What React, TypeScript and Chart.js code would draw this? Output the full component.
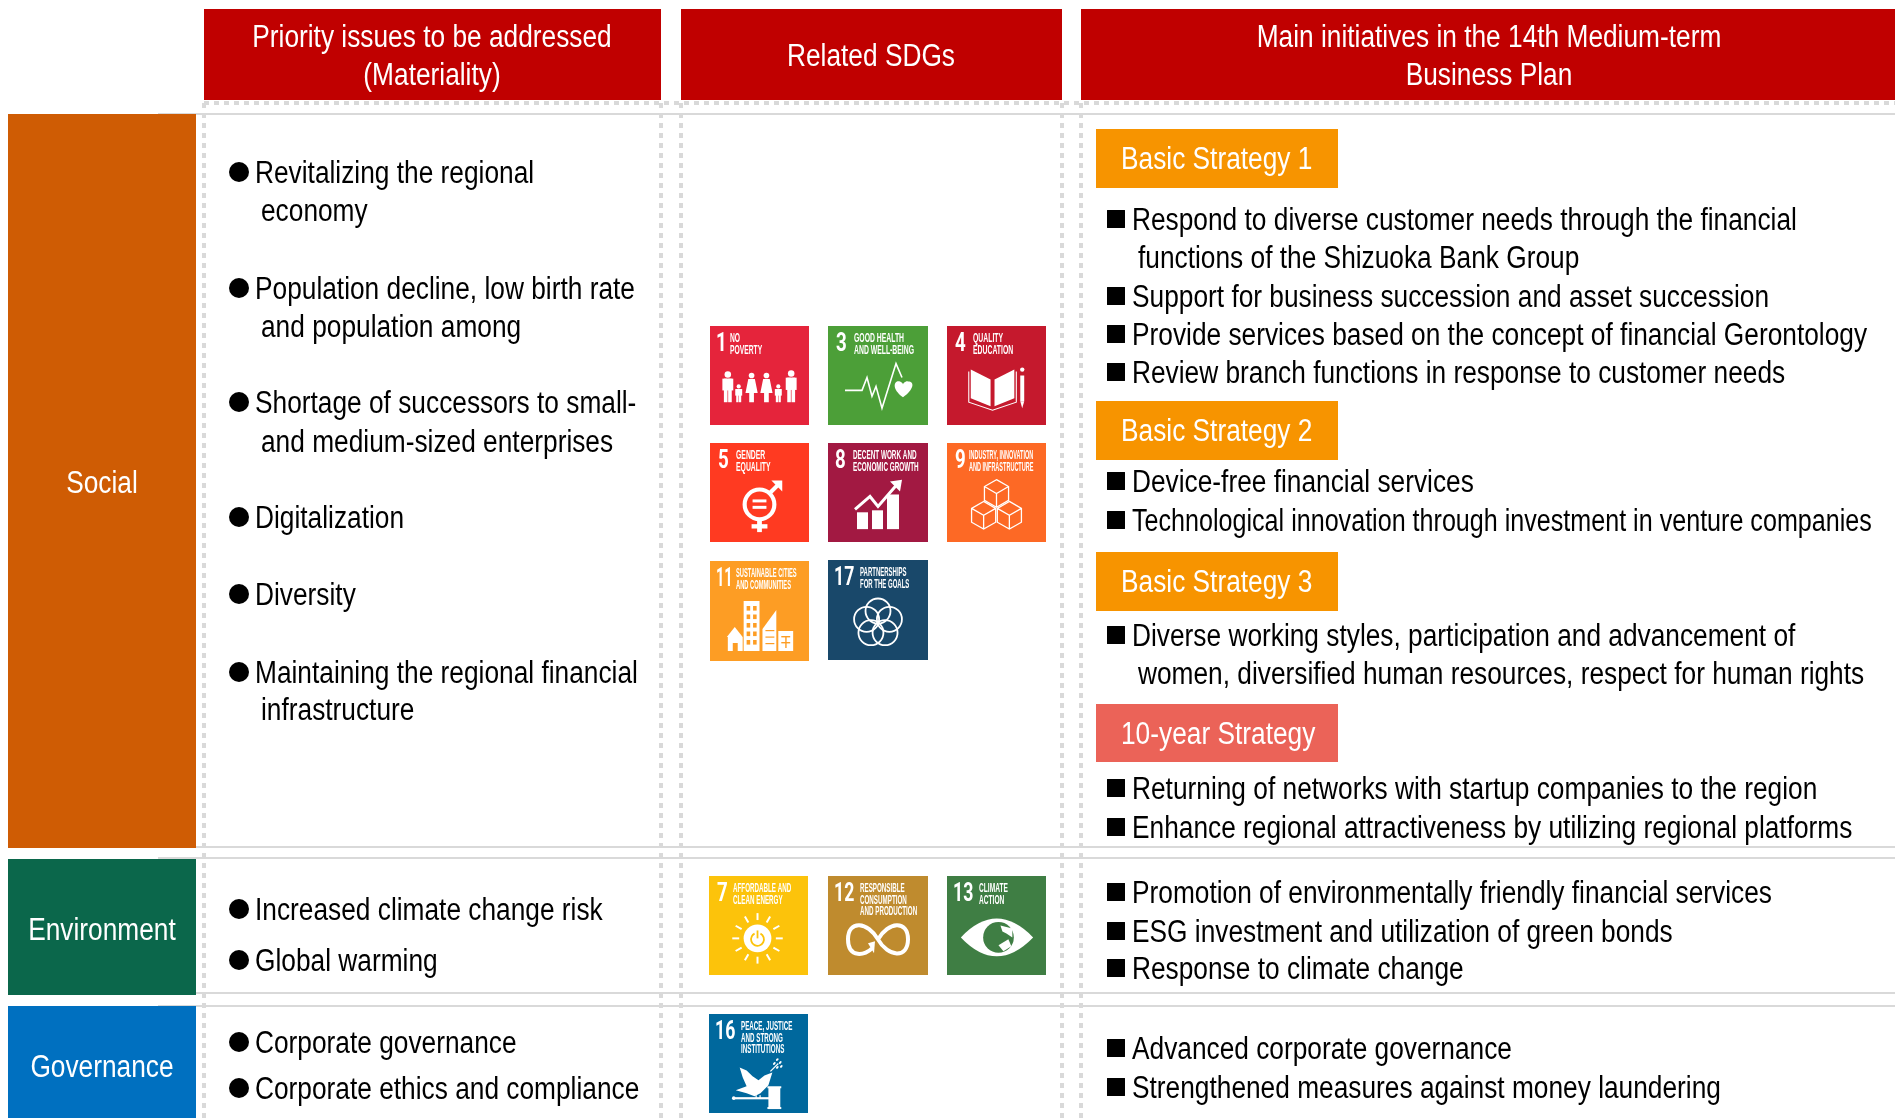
import React, { useEffect, useRef } from "react";
import Chart from "chart.js/auto";

// ---------- content ----------
const headerLines = [
  ["Priority issues to be addressed", "(Materiality)"],
  ["Related SDGs"],
  ["Main initiatives in the 14th Medium-term", "Business Plan"],
];
const pillarLabels = ["Social", "Environment", "Governance"];
const materialityLabels = [
  ["Revitalizing the regional", true],
  ["economy", false],
  ["Population decline, low birth rate", true],
  ["and population among", false],
  ["Shortage of successors to small-", true],
  ["and medium-sized enterprises", false],
  ["Digitalization", true],
  ["Diversity", true],
  ["Maintaining the regional financial", true],
  ["infrastructure", false],
  ["Increased climate change risk", true],
  ["Global warming", true],
  ["Corporate governance", true],
  ["Corporate ethics and compliance", true],
] as [string, boolean][];
const initiativeLabels = [
  ["Respond to diverse customer needs through the financial", true],
  ["functions of the Shizuoka Bank Group", false],
  ["Support for business succession and asset succession", true],
  ["Provide services based on the concept of financial Gerontology", true],
  ["Review branch functions in response to customer needs", true],
  ["Device-free financial services", true],
  ["Technological innovation through investment in venture companies", true],
  ["Diverse working styles, participation and advancement of", true],
  ["women, diversified human resources, respect for human rights", false],
  ["Returning of networks with startup companies to the region", true],
  ["Enhance regional attractiveness by utilizing regional platforms", true],
  ["Promotion of environmentally friendly financial services", true],
  ["ESG investment and utilization of green bonds", true],
  ["Response to climate change", true],
  ["Advanced corporate governance", true],
  ["Strengthened measures against money laundering", true],
] as [string, boolean][];
const strategyLabels = ["Basic Strategy 1", "Basic Strategy 2", "Basic Strategy 3", "10-year Strategy"];
const sdgNumbers = [1, 3, 4, 5, 8, 9, 11, 17, 7, 12, 13, 16];
const sdgTitles = [
  ["NO", "POVERTY"],
  ["GOOD HEALTH", "AND WELL-BEING"],
  ["QUALITY", "EDUCATION"],
  ["GENDER", "EQUALITY"],
  ["DECENT WORK AND", "ECONOMIC GROWTH"],
  ["INDUSTRY, INNOVATION", "AND INFRASTRUCTURE"],
  ["SUSTAINABLE CITIES", "AND COMMUNITIES"],
  ["PARTNERSHIPS", "FOR THE GOALS"],
  ["AFFORDABLE AND", "CLEAN ENERGY"],
  ["RESPONSIBLE", "CONSUMPTION", "AND PRODUCTION"],
  ["CLIMATE", "ACTION"],
  ["PEACE, JUSTICE", "AND STRONG", "INSTITUTIONS"],
];

// ---------- layout ----------
const W = 1895;
const H = 1118;
const headerX = [[204, 661], [681, 1062], [1081, 1895]];
const headerCenter = [432, 871, 1489];
const headerLineY = [[38, 76], [57], [38, 76]];
const pillarY = [[114, 848], [859, 995], [1006, 1118]];
const pillarCenterY = [484, 931, 1068];
const pillarColors = ["#CF5C04", "#0B674B", "#0070C0"];
const materialityY = [174, 212, 290, 328, 404, 443, 519, 596, 674, 711, 911, 962, 1044, 1090];
const initiativeY = [221, 259, 298, 336, 374, 483, 522, 637, 675, 790, 829, 894, 933, 970, 1050, 1089];
const bulletYShift = -2;
const strategyY = [[129, 188], [401, 460], [552, 611], [704, 762]];
const strategyColors = ["#F79400", "#F79400", "#F79400", "#EB6358"];
const sdgBox = [
  [710, 326, 99, 99], [828, 326, 100, 99], [947, 326, 99, 99],
  [710, 443, 99, 99], [828, 443, 100, 99], [947, 443, 99, 99],
  [710, 561, 99, 100], [828, 560, 100, 100],
  [709, 876, 99, 99], [828, 876, 100, 99], [947, 876, 99, 99],
  [709, 1014, 99, 99],
];
const sdgColors = ["#E5243B", "#4C9F38", "#C5192D", "#FF3A21", "#A21942", "#FD6925", "#FD9D24", "#19486A", "#FCC30B", "#BF8B2E", "#3F7E44", "#00689D"];
const sdgNumOffset = [6, 8, 8, 8, 7, 8, 6, 6, 8, 6, 6, 6];
const sdgNumSqueeze = [0.72, 0.72, 0.72, 0.72, 0.72, 0.72, 0.56, 0.68, 0.72, 0.68, 0.68, 0.68];
const sdgTitleOffset = [20, 26, 26, 26, 25, 22, 26, 32, 24, 32, 32, 32];
const sdgTitleSqueeze = [0.56, 0.57, 0.57, 0.57, 0.53, 0.46, 0.48, 0.5, 0.52, 0.52, 0.55, 0.52];
const gridY = [114, 847, 858, 993, 1006];
const dotX = [204, 661, 681, 1062, 1081];
const SANS = '"Liberation Sans", Arial, sans-serif';
const SQUEEZE = 0.848;
const NARROW_LINE = "Technological innovation through investment in venture companies";
const NARROW_SQUEEZE = 0.81;

const rectShape = (x0: number, x1: number, y0: number, y1: number, color: string) => ({
  type: "line",
  data: [{ x: x0, y: y0 }, { x: x1, y: y0 }, { x: x1, y: y1 }, { x: x0, y: y1 }],
  fill: "shape",
  backgroundColor: color,
  borderWidth: 0,
  borderColor: color,
  pointRadius: 0,
  tension: 0,
});
const lineShape = (x0: number, y0: number, x1: number, y1: number, width: number, dash: number[]) => ({
  type: "line",
  data: [{ x: x0, y: y0 }, { x: x1, y: y1 }],
  borderColor: "#D9D9D9",
  borderWidth: width,
  borderDash: dash,
  pointRadius: 0,
  fill: false,
});

// ---------- SDG pictograms, in tile units 0..100 ----------
function poly(ctx: any, pts: number[][], fill = true) {
  ctx.beginPath();
  pts.forEach((p, i) => (i ? ctx.lineTo(p[0], p[1]) : ctx.moveTo(p[0], p[1])));
  if (fill) { ctx.closePath(); ctx.fill(); } else ctx.stroke();
}
function person(ctx: any, cx: number, head: number, bottom: number, w: number, skirt: boolean) {
  ctx.beginPath();
  ctx.arc(cx, head, w * 0.3, 0, Math.PI * 2);
  ctx.fill();
  const top = head + w * 0.38;
  if (skirt) {
    poly(ctx, [[cx - w * 0.35, top], [cx + w * 0.35, top], [cx + w * 0.65, top + (bottom - top) * 0.6], [cx + w * 0.25, top + (bottom - top) * 0.6], [cx + w * 0.25, bottom], [cx - w * 0.25, bottom], [cx - w * 0.25, top + (bottom - top) * 0.6], [cx - w * 0.65, top + (bottom - top) * 0.6]]);
  } else {
    ctx.fillRect(cx - w * 0.5, top, w, (bottom - top) * 0.5);
    ctx.fillRect(cx - w * 0.36, top, w * 0.33, bottom - top);
    ctx.fillRect(cx + w * 0.03, top, w * 0.33, bottom - top);
  }
}
function cube(ctx: any, cx: number, cy: number, s: number) {
  const dx = s * 0.87, dy = s * 0.5;
  ctx.beginPath();
  ctx.moveTo(cx, cy - s);
  ctx.lineTo(cx + dx, cy - dy);
  ctx.lineTo(cx + dx, cy + dy);
  ctx.lineTo(cx, cy + s);
  ctx.lineTo(cx - dx, cy + dy);
  ctx.lineTo(cx - dx, cy - dy);
  ctx.closePath();
  ctx.moveTo(cx - dx, cy - dy);
  ctx.lineTo(cx, cy);
  ctx.lineTo(cx + dx, cy - dy);
  ctx.moveTo(cx, cy);
  ctx.lineTo(cx, cy + s);
  ctx.stroke();
}
const icons: Record<number, (ctx: any, bg: string) => void> = {
  1: (c) => {
    person(c, 18, 49, 77, 11, false);
    person(c, 29, 61, 77, 7, false);
    person(c, 42, 50, 77, 9.5, true);
    person(c, 57, 50, 77, 9.5, true);
    person(c, 69, 61, 77, 7, false);
    person(c, 82, 48, 77, 11, false);
  },
  3: (c) => {
    c.lineWidth = 1.6;
    c.lineJoin = "miter";
    poly(c, [[17, 65], [34, 65], [39, 52], [44, 71], [48, 61], [54, 83], [68, 38], [74, 52]], false);
    c.beginPath();
    c.moveTo(75, 72);
    c.bezierCurveTo(62, 62, 67, 54, 72, 56);
    c.bezierCurveTo(74, 57, 75, 58, 75, 59);
    c.bezierCurveTo(75, 58, 78, 55, 80, 56);
    c.bezierCurveTo(87, 56, 86, 64, 75, 72);
    c.fill();
  },
  4: (c) => {
    poly(c, [[24, 44], [44, 54], [44, 81], [24, 73]]);
    poly(c, [[48, 54], [68, 44], [68, 73], [48, 81]]);
    c.lineWidth = 1.1;
    poly(c, [[22, 46], [22, 77], [46, 85], [70, 77], [70, 46]], false);
    c.fillRect(74, 50, 4, 26);
    poly(c, [[74, 76], [78, 76], [76, 83]]);
    c.beginPath(); c.arc(76, 44, 2.2, 0, Math.PI * 2); c.fill();
  },
  5: (c) => {
    c.lineWidth = 4.2;
    c.beginPath(); c.arc(50, 62, 15, 0, Math.PI * 2); c.stroke();
    c.fillRect(43, 57, 14, 3);
    c.fillRect(43, 63.5, 14, 3);
    poly(c, [[60, 51], [71, 40]], false);
    poly(c, [[62, 38], [73, 38], [73, 49]]);
    c.fillRect(47.6, 77, 4.8, 13);
    c.fillRect(42, 82, 16, 4.4);
  },
  8: (c) => {
    c.fillRect(29, 70, 11, 17);
    c.fillRect(44, 68, 11, 19);
    c.fillRect(59, 52, 12, 35);
    c.lineWidth = 3;
    poly(c, [[27, 67], [42, 54], [50, 64], [69, 42]], false);
    poly(c, [[62, 39], [74, 37], [72, 49]]);
    c.fillStyle = "#A21942";
    c.fillRect(40, 70, 4, 17);
  },
  9: (c) => {
    c.lineWidth = 1.3;
    cube(c, 50, 51, 14);
    cube(c, 37, 73, 14);
    cube(c, 63, 73, 14);
  },
  11: (c, bg) => {
    poly(c, [[17, 76], [25, 66], [33, 76]]);
    c.fillRect(18, 76, 15, 14);
    c.fillRect(34, 40, 16, 50);
    poly(c, [[53, 90], [53, 68], [67, 49], [67, 90]]);
    c.fillRect(69, 70, 15, 20);
    c.fillStyle = bg;
    c.fillRect(23, 82, 5, 8);
    for (let r = 0; r < 5; r++) for (let k = 0; k < 2; k++) c.fillRect(37 + k * 6.5, 45 + r * 8.5, 3.6, 4.6);
    for (let r = 0; r < 3; r++) c.fillRect(56, 69 + r * 6.5, 9, 1.2);
    c.fillRect(72, 75, 9, 1.4);
    c.fillRect(72, 81, 9, 1.4);
    c.fillRect(76, 75, 1.4, 12);
  },
  17: (c) => {
    c.lineWidth = 1.8;
    for (let i = 0; i < 5; i++) {
      const a = -Math.PI / 2 + (i * 2 * Math.PI) / 5;
      c.beginPath();
      c.arc(50 + 12 * Math.cos(a), 63 + 12 * Math.sin(a), 12.5, 0, Math.PI * 2);
      c.stroke();
    }
  },
  7: (c, bg) => {
    c.beginPath(); c.arc(49, 63, 14, 0, Math.PI * 2); c.fill();
    c.lineWidth = 2;
    for (let i = 0; i < 12; i++) {
      const a = (i * Math.PI) / 6;
      c.beginPath();
      c.moveTo(49 + 18.5 * Math.cos(a), 63 + 18.5 * Math.sin(a));
      c.lineTo(49 + 25.5 * Math.cos(a), 63 + 25.5 * Math.sin(a));
      c.stroke();
    }
    c.strokeStyle = bg;
    c.lineWidth = 1.8;
    c.beginPath(); c.arc(49, 64, 6.5, -1.1, Math.PI + 1.1); c.stroke();
    c.beginPath(); c.moveTo(49, 55); c.lineTo(49, 63); c.stroke();
  },
  12: (c) => {
    c.lineWidth = 4;
    c.beginPath();
    c.moveTo(50, 64);
    c.bezierCurveTo(40, 46, 20, 44, 20, 64);
    c.bezierCurveTo(20, 84, 38, 80, 44, 73);
    c.moveTo(50, 64);
    c.bezierCurveTo(60, 46, 80, 44, 80, 64);
    c.bezierCurveTo(80, 84, 60, 82, 50, 64);
    c.stroke();
    poly(c, [[40, 68], [47, 66], [46, 78]]);
  },
  13: (c, bg) => {
    c.beginPath();
    c.moveTo(14, 62);
    c.quadraticCurveTo(50, 24, 87, 62);
    c.quadraticCurveTo(50, 100, 14, 62);
    c.fill();
    c.fillStyle = bg;
    c.beginPath(); c.arc(52, 62, 15.5, 0, Math.PI * 2); c.fill();
    c.fillStyle = "#FFFFFF";
    poly(c, [[54, 50], [66, 53], [66, 62], [60, 58], [56, 56]]);
    poly(c, [[52, 70], [62, 64], [65, 71], [57, 76]]);
  },
  16: (c) => {
    poly(c, [[31, 54], [38, 57], [44, 63], [50, 67], [56, 62], [64, 59], [60, 72], [52, 80], [46, 83], [38, 80], [27, 77], [38, 73], [34, 64]]);
    c.fillRect(47, 82, 1.2, 3);
    c.fillRect(51, 82, 1.2, 3);
    c.lineWidth = 1.2;
    poly(c, [[62, 58], [70, 50]], false);
    [[66, 50], [69, 46], [72, 49], [73, 53], [69, 54]].forEach((p) => {
      c.beginPath(); c.ellipse(p[0], p[1], 1.6, 1, -0.8, 0, Math.PI * 2); c.fill();
    });
    c.fillRect(24, 84, 38, 2.2);
    c.beginPath(); c.arc(25, 85, 1.8, 0, Math.PI * 2); c.fill();
    c.fillRect(60, 74, 12, 22);
    c.fillRect(59, 73, 14, 2);
    c.fillRect(59, 94, 14, 2);
  },
};

const overlayPlugin = {
  id: "tableText",
  afterDatasetsDraw(chart: any) {
    const { ctx, scales } = chart;
    const X = (v: number) => scales.x.getPixelForValue(v);
    const Y = (v: number) => scales.y.getPixelForValue(v);
    const label = (t: string, x: number, y: number, color: string, align: CanvasTextAlign = "left") => {
      ctx.save();
      ctx.filter = "blur(0.3px)";
      ctx.translate(X(x), Y(y));
      ctx.scale(t === NARROW_LINE ? NARROW_SQUEEZE : SQUEEZE, 1);
      ctx.fillStyle = color;
      ctx.textAlign = align;
      ctx.textBaseline = "middle";
      ctx.font = `31px ${SANS}`;
      ctx.fillText(t, 0, 0);
      ctx.restore();
    };
    // SDG tiles
    sdgNumbers.forEach((n, i) => {
      const [x, y, w, h] = sdgBox[i];
      ctx.save();
      ctx.filter = "blur(0.45px)";
      ctx.translate(X(x), Y(y));
      ctx.scale(w / 100, h / 100);
      ctx.fillStyle = "#FFFFFF";
      ctx.strokeStyle = "#FFFFFF";
      icons[n](ctx, sdgColors[i]);
      ctx.restore();
      ctx.save();
      ctx.filter = "blur(0.35px)";
      ctx.translate(X(x), Y(y));
      ctx.fillStyle = "#FFFFFF";
      ctx.textBaseline = "middle";
      ctx.textAlign = "left";
      ctx.save();
      ctx.translate(sdgNumOffset[i], 18);
      ctx.scale(sdgNumSqueeze[i], 1);
      ctx.font = `bold 26px "Roboto", ${SANS}`;
      ctx.fillText(String(n), 0, 0);
      ctx.restore();
      sdgTitles[i].forEach((line, k) => {
        ctx.save();
        ctx.translate(sdgTitleOffset[i], 12.5 + k * 11.8);
        ctx.scale(sdgTitleSqueeze[i], 1);
        ctx.font = `bold 12px ${SANS}`;
        ctx.fillText(line, 0, 0);
        ctx.restore();
      });
      ctx.restore();
    });
    // headers
    headerLines.forEach((lines, c) =>
      lines.forEach((t, k) => label(t, headerCenter[c], headerLineY[c][k], "#FFFFFF", "center"))
    );
    pillarLabels.forEach((t, i) => label(t, 102, pillarCenterY[i], "#FFFFFF", "center"));
    strategyLabels.forEach((t, i) => label(t, 1121, (strategyY[i][0] + strategyY[i][1]) / 2 + 2, "#FFFFFF"));
    materialityLabels.forEach(([t, bullet], i) => label(t, bullet ? 255 : 261, materialityY[i], "#000000"));
    initiativeLabels.forEach(([t, bullet], i) => label(t, bullet ? 1132 : 1138, initiativeY[i], "#000000"));
  },
};

export default function App() {
  const ref = useRef<HTMLCanvasElement>(null);
  useEffect(() => {
    document.body.style.margin = "0";
    document.body.style.background = "#FFFFFF";
    const datasets: any[] = [
      {
        type: "scatter",
        data: materialityY.filter((_, i) => materialityLabels[i][1]).map((y) => ({ x: 239, y: y + bulletYShift })),
        pointStyle: "circle",
        pointRadius: 10,
        backgroundColor: "#000000",
        borderWidth: 0,
      },
      {
        type: "scatter",
        data: initiativeY.filter((_, i) => initiativeLabels[i][1]).map((y) => ({ x: 1116, y: y + bulletYShift })),
        pointStyle: "rect",
        pointRadius: 12.7,
        backgroundColor: "#000000",
        borderWidth: 0,
      },
      ...sdgBox.map((b, i) => rectShape(b[0], b[0] + b[2], b[1], b[1] + b[3], sdgColors[i])),
      ...strategyY.map((s, i) => rectShape(1096, 1338, s[0], s[1], strategyColors[i])),
      ...headerX.map((x) => rectShape(x[0], x[1], 9, 100, "#C00000")),
      ...pillarY.map((y, i) => rectShape(8, 196, y[0], y[1], pillarColors[i])),
      lineShape(204, 103, W, 103, 4, [5, 5]),
      ...dotX.map((x) => lineShape(x, 103, x, H, 4, [5, 5])),
      ...gridY.map((y) => lineShape(158, y, W, y, 2, [])),
    ];
    const chart = new Chart(ref.current as HTMLCanvasElement, {
      type: "scatter",
      data: { datasets },
      options: {
        animation: false,
        responsive: false,
        devicePixelRatio: 1,
        layout: { padding: 0, autoPadding: false },
        scales: {
          x: { type: "linear", display: false, min: 0, max: W },
          y: { type: "linear", display: false, min: 0, max: H, reverse: true },
        },
        plugins: { legend: { display: false }, tooltip: { enabled: false }, title: { display: false } },
        events: [],
      },
      plugins: [overlayPlugin],
    } as any);
    return () => chart.destroy();
  }, []);
  return (
    <div style={{ position: "fixed", left: 0, top: 0, width: W, height: H, overflow: "hidden", background: "#fff" }}>
      <canvas ref={ref} width={W} height={H} style={{ display: "block", width: W, height: H }} />
    </div>
  );
}
